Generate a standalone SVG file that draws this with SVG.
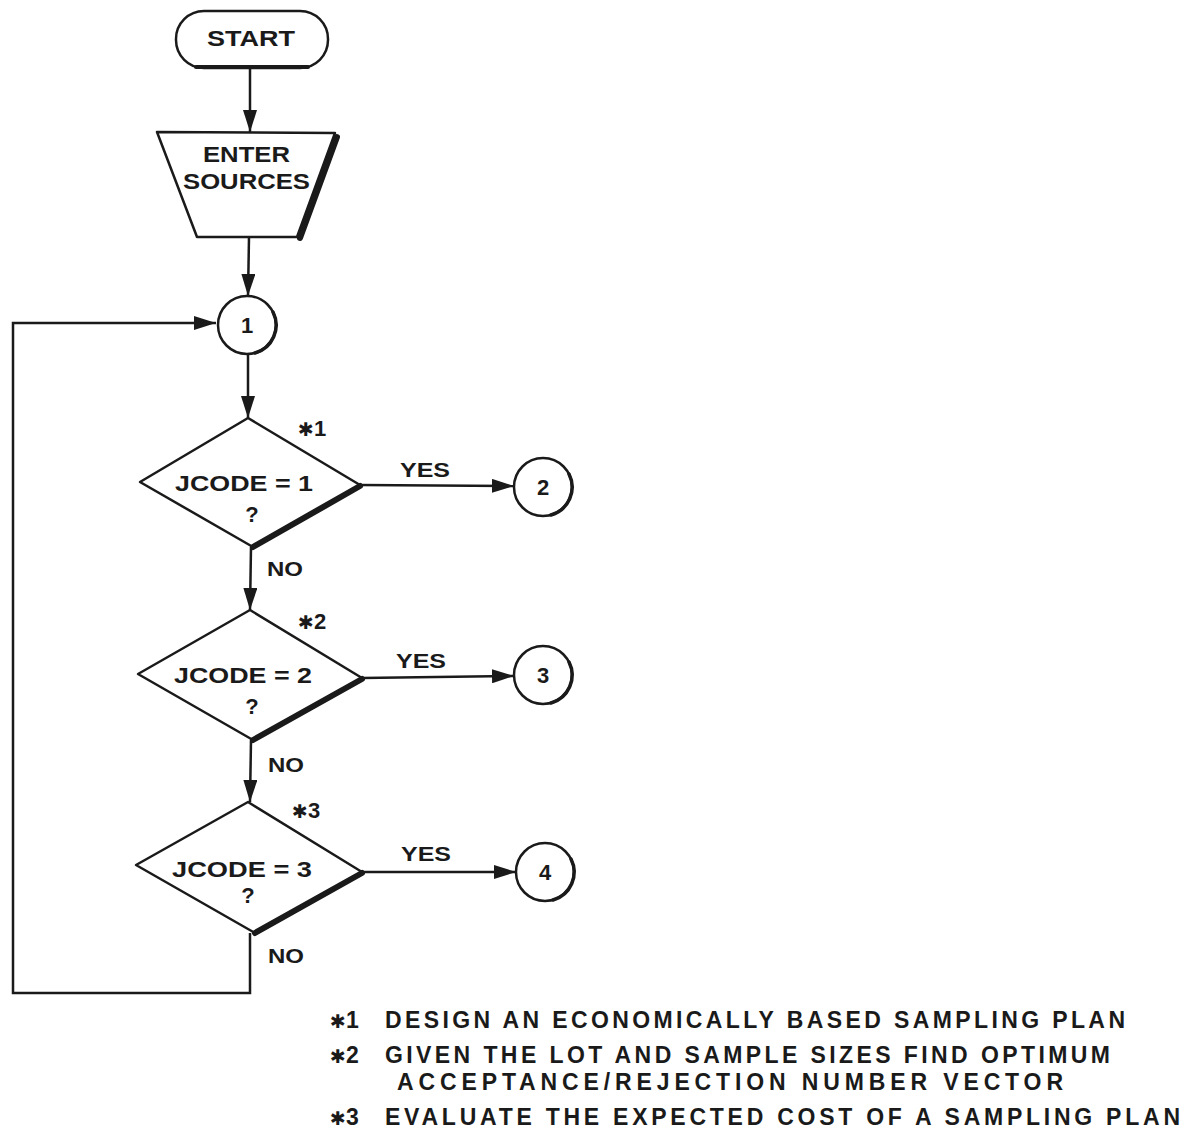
<svg xmlns="http://www.w3.org/2000/svg" width="1190" height="1134" viewBox="0 0 1190 1134">
<defs>
<marker id="ah" markerUnits="userSpaceOnUse" markerWidth="24" markerHeight="14" refX="22" refY="7" orient="auto">
<path d="M0,0 L22,7 L0,14 z" fill="#1a1a1a"/>
</marker>
<style>
.s{fill:none;stroke:#1a1a1a;stroke-width:2.5}
.f{fill:#fff;stroke:#1a1a1a;stroke-width:2.5;stroke-linejoin:round}
.sh{fill:none;stroke:#1a1a1a;stroke-width:6;stroke-linecap:round}
.t{font-family:"Liberation Sans",Arial,sans-serif;font-size:22px;font-weight:bold;fill:#1a1a1a}
.n{font-family:"Liberation Sans",Arial,sans-serif;font-size:21px;font-weight:bold;fill:#1a1a1a}
.ast{font-family:"DejaVu Sans",sans-serif;font-size:19px;font-weight:normal}
.fn{font-family:"Liberation Sans",Arial,sans-serif;font-size:23px;font-weight:bold;fill:#1a1a1a}
</style>
</defs>
<rect width="1190" height="1134" fill="#fff"/>
<g id="connectors">
<line class="s" x1="250" y1="68" x2="250" y2="132" marker-end="url(#ah)"/>
<line class="s" x1="249" y1="237" x2="248" y2="296" marker-end="url(#ah)"/>
<line class="s" x1="248" y1="355" x2="248" y2="418" marker-end="url(#ah)"/>
<line class="s" x1="251" y1="547" x2="250" y2="610" marker-end="url(#ah)"/>
<line class="s" x1="251" y1="740" x2="250" y2="802" marker-end="url(#ah)"/>
<polyline class="s" points="250,933 250,993 13,993 13,323 216,323" marker-end="url(#ah)"/>
<line class="s" x1="360" y1="485" x2="514" y2="486" marker-end="url(#ah)"/>
<line class="s" x1="362" y1="678" x2="514" y2="676" marker-end="url(#ah)"/>
<line class="s" x1="362" y1="872" x2="516" y2="872" marker-end="url(#ah)"/>
<text class="n" x="400" y="477" textLength="50" lengthAdjust="spacingAndGlyphs">YES</text>
<text class="n" x="396" y="668" textLength="50" lengthAdjust="spacingAndGlyphs">YES</text>
<text class="n" x="401" y="861" textLength="50" lengthAdjust="spacingAndGlyphs">YES</text>
<text class="n" x="267" y="576" textLength="36" lengthAdjust="spacingAndGlyphs">NO</text>
<text class="n" x="268" y="772" textLength="36" lengthAdjust="spacingAndGlyphs">NO</text>
<text class="n" x="268" y="963" textLength="36" lengthAdjust="spacingAndGlyphs">NO</text>
</g>
<g id="start">
<rect class="f" x="176" y="11" width="152" height="57" rx="28"/>
<path class="sh" style="stroke-width:4" d="M196,67 L308,67"/>
<text class="t" x="207" y="46" textLength="88" lengthAdjust="spacingAndGlyphs">START</text>
</g>
<g id="enter-sources">
<polygon class="f" points="157,132 335,133 297,237 197,237"/>
<line class="sh" x1="337" y1="137" x2="300" y2="238"/>
<text class="t" x="203" y="162" textLength="87" lengthAdjust="spacingAndGlyphs">ENTER</text>
<text class="t" x="183" y="189" textLength="127" lengthAdjust="spacingAndGlyphs">SOURCES</text>
</g>
<g id="c1">
<circle class="f" cx="247" cy="325" r="29"/>
<path class="sh" style="stroke-width:3.5" d="M273,312 A29,29 0 0 1 255,353"/>
<text class="t" x="247" y="333" text-anchor="middle">1</text>
</g>
<g id="d1">
<polygon class="f" points="248,418 360,485 253,547 140,482"/>
<line class="sh" x1="360" y1="486" x2="253" y2="547"/>
<text class="t" x="175" y="491" textLength="138" lengthAdjust="spacingAndGlyphs">JCODE = 1</text>
<text class="t" x="252" y="522" text-anchor="middle">?</text>
<text class="t" x="298" y="436"><tspan class="ast">✱</tspan>1</text>
</g>
<g id="c2">
<circle class="f" cx="543" cy="487" r="29"/>
<path class="sh" style="stroke-width:3.5" d="M569,474 A29,29 0 0 1 551,515"/>
<text class="t" x="543" y="495" text-anchor="middle">2</text>
</g>
<g id="d2">
<polygon class="f" points="250,610 362,678 253,740 138,674"/>
<line class="sh" x1="362" y1="679" x2="253" y2="740"/>
<text class="t" x="174" y="683" textLength="138" lengthAdjust="spacingAndGlyphs">JCODE = 2</text>
<text class="t" x="252" y="714" text-anchor="middle">?</text>
<text class="t" x="298" y="629"><tspan class="ast">✱</tspan>2</text>
</g>
<g id="c3">
<circle class="f" cx="543" cy="675" r="29"/>
<path class="sh" style="stroke-width:3.5" d="M569,662 A29,29 0 0 1 551,703"/>
<text class="t" x="543" y="683" text-anchor="middle">3</text>
</g>
<g id="d3">
<polygon class="f" points="248,802 362,872 255,933 136,865"/>
<line class="sh" x1="362" y1="873" x2="255" y2="933"/>
<text class="t" x="172" y="877" textLength="140" lengthAdjust="spacingAndGlyphs">JCODE = 3</text>
<text class="t" x="248" y="903" text-anchor="middle">?</text>
<text class="t" x="292" y="818"><tspan class="ast">✱</tspan>3</text>
</g>
<g id="c4">
<circle class="f" cx="545" cy="872" r="29"/>
<path class="sh" style="stroke-width:3.5" d="M571,859 A29,29 0 0 1 553,900"/>
<text class="t" x="545" y="880" text-anchor="middle">4</text>
</g>
<g id="notes">
<text class="fn" x="330" y="1028"><tspan class="ast">✱</tspan>1</text>
<text class="fn" x="385" y="1028" textLength="740" lengthAdjust="spacing">DESIGN AN ECONOMICALLY BASED SAMPLING PLAN</text>
<text class="fn" x="330" y="1063"><tspan class="ast">✱</tspan>2</text>
<text class="fn" x="385" y="1063" textLength="725" lengthAdjust="spacing">GIVEN THE LOT AND SAMPLE SIZES FIND OPTIMUM</text>
<text class="fn" x="397" y="1090" textLength="666" lengthAdjust="spacing">ACCEPTANCE/REJECTION NUMBER VECTOR</text>
<text class="fn" x="330" y="1125"><tspan class="ast">✱</tspan>3</text>
<text class="fn" x="385" y="1125" textLength="795" lengthAdjust="spacing">EVALUATE THE EXPECTED COST OF A SAMPLING PLAN</text>
</g>
</svg>
